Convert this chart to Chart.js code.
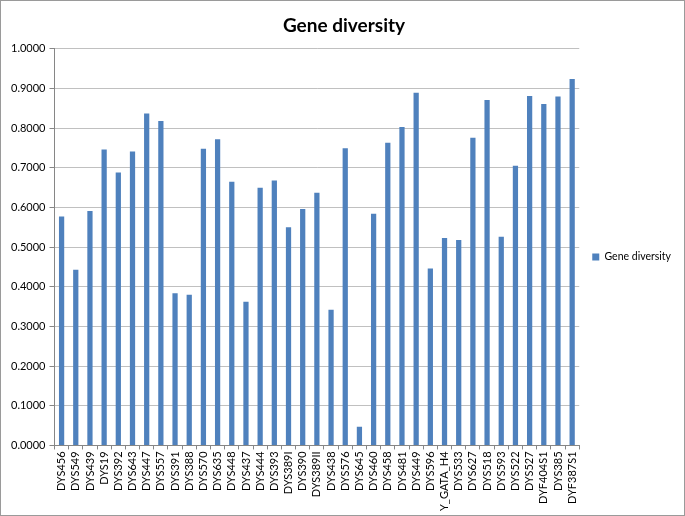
<!DOCTYPE html>
<html>
<head>
<meta charset="utf-8">
<script src="https://cdn.jsdelivr.net/npm/chart.js@4.4.0/dist/chart.umd.min.js"></script>
<style>
  html, body { margin: 0; padding: 0; background: #fff; }
  #wrap { width: 685px; height: 516px; box-sizing: border-box; border: 1px solid #9a9a9a; position: relative; }
</style>
</head>
<body>
<div id="wrap"><canvas id="myChart"></canvas></div>
<script>
const markers = ['DYS456', 'DYS549', 'DYS439', 'DYS19', 'DYS392', 'DYS643', 'DYS447', 'DYS557',
  'DYS391', 'DYS388', 'DYS570', 'DYS635', 'DYS448', 'DYS437', 'DYS444', 'DYS393', 'DYS389I',
  'DYS390', 'DYS389II', 'DYS438', 'DYS576', 'DYS645', 'DYS460', 'DYS458', 'DYS481', 'DYS449',
  'DYS596', 'Y_GATA_H4', 'DYS533', 'DYS627', 'DYS518', 'DYS593', 'DYS522', 'DYS527',
  'DYF404S1', 'DYS385', 'DYF387S1'];

const geneDiversity = [0.577, 0.443, 0.591, 0.746, 0.688, 0.741, 0.837, 0.818,
  0.384, 0.380, 0.748, 0.772, 0.665, 0.362, 0.650, 0.668, 0.550,
  0.596, 0.637, 0.342, 0.749, 0.047, 0.584, 0.763, 0.803, 0.889,
  0.446, 0.523, 0.518, 0.776, 0.871, 0.526, 0.705, 0.881,
  0.861, 0.880, 0.924];

const yMin = 0;
const yMax = 1;
const yStep = 0.1;

const ctx = document.getElementById('myChart').getContext('2d');
const gridColor = '#c0c0c0';

new Chart(ctx, {
  type: 'bar',
  data: {
    labels: markers,
    datasets: [{
      label: 'Gene diversity',
      data: geneDiversity,
      backgroundColor: '#4f81bd',
      borderWidth: 0,
      barPercentage: 0.37,
      categoryPercentage: 1.0
    }]
  },
  options: {
    responsive: true,
    maintainAspectRatio: false,
    animation: false,
    layout: { padding: { left: 6, right: 3, top: 0, bottom: 2 } },
    plugins: {
      title: {
        display: true,
        text: 'Gene diversity',
        color: '#000',
        font: { family: 'Lato', size: 19, weight: 'bold' },
        padding: { top: 13, bottom: 12 }
      },
      legend: {
        position: 'right',
        labels: {
          boxWidth: 7,
          boxHeight: 7,
          color: '#000',
          font: { family: 'Lato', size: 10.5 },
          padding: 13
        }
      },
      tooltip: { enabled: false }
    },
    scales: {
      x: {
        grid: { offset: true, drawOnChartArea: false, drawTicks: true, tickLength: 4, color: '#868686' },
        border: { color: '#868686' },
        ticks: {
          autoSkip: false,
          maxRotation: 90,
          minRotation: 90,
          color: '#000',
          font: { family: 'Lato', size: 11 },
          padding: 2
        }
      },
      y: {
        min: yMin,
        max: yMax,
        grid: { color: gridColor, tickLength: 5, tickColor: '#868686' },
        border: { color: '#868686' },
        ticks: {
          stepSize: yStep,
          color: '#000',
          font: { family: 'Lato', size: 11 },
          padding: 4,
          callback: v => Number(v).toFixed(4)
        }
      }
    }
  }
});
</script>
</body>
</html>
